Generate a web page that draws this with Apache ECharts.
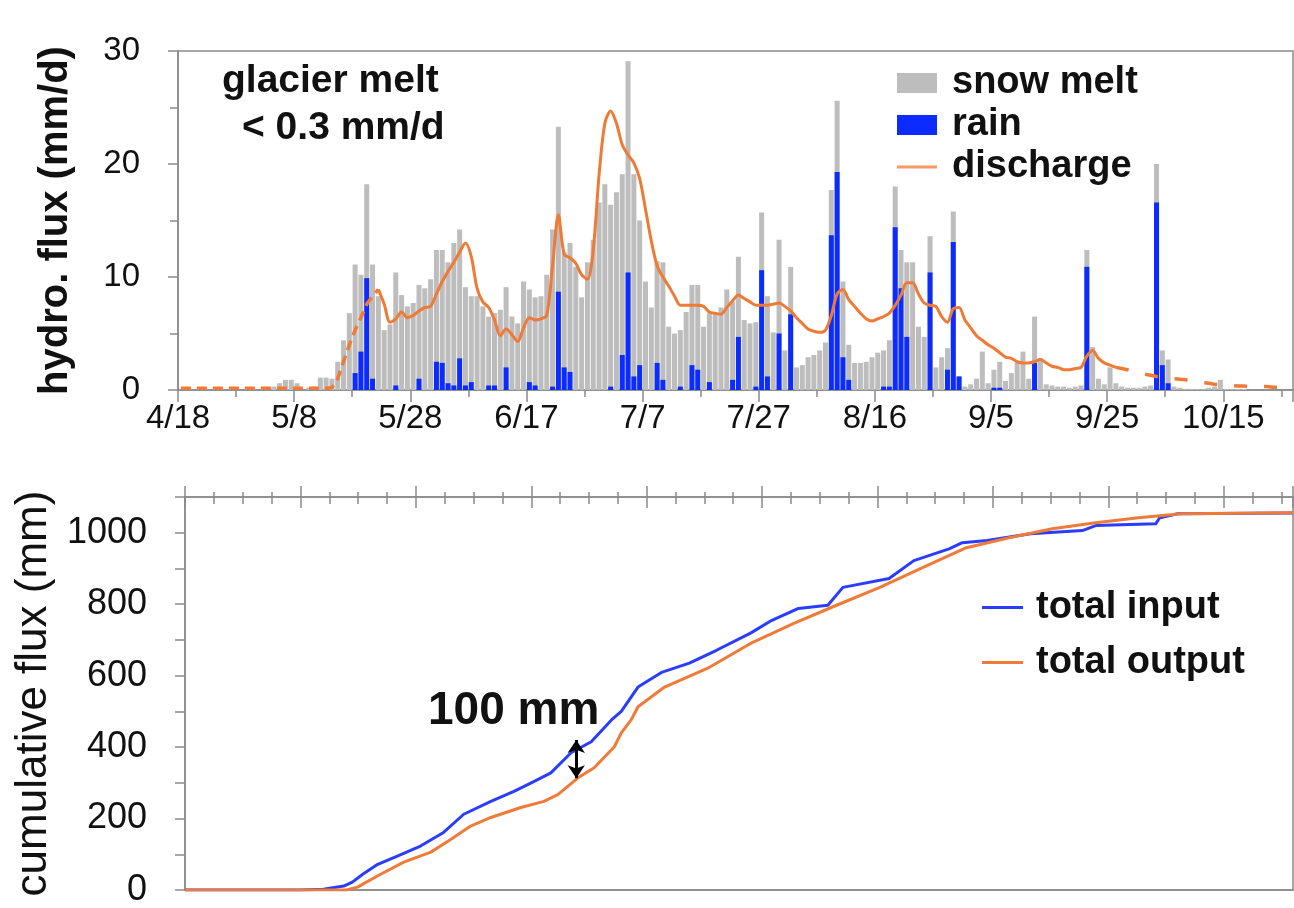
<!DOCTYPE html>
<html>
<head>
<meta charset="utf-8">
<title>Hydrological fluxes</title>
<script src="https://cdn.jsdelivr.net/npm/echarts@6/dist/echarts.min.js"></script>
<style>
  html, body { margin: 0; padding: 0; background: #fff; }
  #main { width: 1294px; height: 908px; }
</style>
</head>
<body>
<div id="main"></div>
<script>
// Daily series, one value per day starting 4/18 (day 0) through 10/27 (day 191)
const dateLabels = ['4/18', '5/8', '5/28', '6/17', '7/7', '7/27', '8/16', '9/5', '9/25', '10/15'];

// rain (mm/d)
const rain = [
  0,0,0,0,0,0,0,0,0,0,
  0,0,0,0,0,0,0,0,0,0,
  0,0,0,0,0,0,0,0,0,0,
  1.5,3.4,9.9,1.0,0,0,0,0.4,0,0,
  0,1.0,0,0,2.5,2.4,0.6,0.4,2.8,0.4,
  0.7,0,0,0.4,0.4,0,2.0,0,0,0,
  0.7,0.4,0,0,0.3,8.7,2.0,1.6,0,0,
  0,0,0,0,0.3,0,3.1,10.4,1.2,2.2,
  0,0,2.4,0.9,0,0,0.3,0,2.2,1.8,
  0,0.7,0,0,0,0.9,4.7,0,0,0.3,
  10.6,1.2,0,5.0,0,6.7,0,0,0,0,
  0,0,13.7,19.3,2.9,0.9,0,0,0,0,
  0,0.3,0.3,14.4,9.0,4.7,0,0,0,10.4,
  0,0,1.8,13.1,1.2,0,0,0,0,0,
  0.2,0.2,0,0,0,0,0,2.4,0,0,
  0,0,0,0,0,0,10.9,0,0,0,
  0,0,0,0,0,0,0,0,16.6,2.2,
  0.6,0,0,0,0,0,0,0,0,0,
  0,0,0,0,0,0,0,0,0,0,
  0,0
];

// snow melt (mm/d), drawn on top of the rain of the same day
const snowMelt = [
  0,0,0,0,0,0,0,0,0,0,
  0,0,0,0,0,0,0.3,0.6,0.9,0.9,
  0.6,0,0.2,0.3,1.1,1.1,1.0,2.5,4.4,6.8,
  9.6,6.8,8.3,10.1,8.3,5.3,5.8,10.0,8.4,7.4,
  7.7,8.3,9.0,9.8,9.9,10.0,10.7,12.6,11.4,8.7,
  7.6,8.3,7.4,6.1,6.4,7.1,7.1,6.5,5.9,9.6,
  8.2,7.8,8.3,10.2,13.9,14.6,10.2,11.4,10.9,8.2,
  11.3,13.3,16.6,18.2,16.1,17.5,16.0,18.7,17.9,12.8,
  9.6,7.3,9.0,10.4,5.6,5.0,5.0,6.9,7.1,7.5,
  5.6,6.1,6.8,7.3,8.9,6.9,7.1,6.2,5.9,5.7,
  5.1,7.1,5.1,8.3,3.5,4.2,2.0,2.2,2.9,3.1,
  3.5,4.2,4.0,6.3,6.7,3.1,2.4,2.4,2.5,2.9,
  3.3,3.2,4.1,3.6,3.4,6.6,11.3,5.6,4.7,3.2,
  2.0,2.9,1.9,2.7,0,0.3,0.5,1.0,3.4,0.6,
  1.6,2.3,0.8,1.5,2.4,3.4,1.0,4.1,2.8,0.5,
  0.4,0.3,0.3,0.2,0.3,0.4,1.5,3.8,1.0,0.5,
  2.0,0.6,0.3,0.2,0.2,0.2,0.3,0.4,3.4,1.3,
  2.1,0.3,0.2,0.1,0.1,0.1,0.1,0.2,0.3,0.9,
  0.1,0.1,0.1,0.1,0,0,0,0,0,0,
  0,0
];

// discharge (mm/d)
const discharge = [
  0.15,0.15,0.15,0.15,0.15,0.15,0.15,0.15,0.15,0.15,
  0.15,0.15,0.15,0.15,0.15,0.15,0.15,0.15,0.15,0.15,
  0.15,0.15,0.15,0.15,0.15,0.15,0.2,1.0,2.5,4.0,
  5.3,6.4,7.6,8.3,8.9,7.6,6.0,6.3,6.9,6.4,
  6.6,7.0,7.3,7.4,8.5,9.6,10.5,11.3,12.2,13.0,
  11.8,9.0,7.8,7.3,6.2,4.8,5.4,4.9,4.3,5.5,
  6.4,6.2,6.3,6.6,11.0,15.5,12.0,11.7,11.2,10.2,
  9.8,12.4,19.0,23.6,24.7,23.6,21.7,20.8,20.1,18.7,
  16.0,13.2,11.0,10.0,9.2,8.3,7.5,7.5,7.5,7.5,
  7.4,6.9,6.8,6.7,7.3,7.9,8.4,8.1,7.8,7.5,
  7.5,7.5,7.6,7.7,7.4,7.0,6.4,5.9,5.4,5.2,
  5.1,5.3,6.6,8.5,8.9,8.0,7.4,6.8,6.3,6.1,
  6.3,6.5,6.8,7.5,8.4,9.5,9.5,8.5,7.7,7.5,
  7.4,6.5,6.0,7.2,7.3,6.2,5.5,4.8,4.4,4.0,
  3.7,3.3,2.9,2.8,2.5,2.4,2.4,2.5,2.7,2.4,
  2.1,2.0,1.8,1.8,1.9,2.0,3.0,3.5,2.8,2.4,
  2.2,2.0,1.9,1.8,1.6,1.5,1.4,1.3,1.2,1.2,
  1.1,1.0,0.95,0.9,0.8,0.7,0.65,0.6,0.5,0.45,
  0.4,0.4,0.35,0.35,0.3,0.3,0.3,0.3,0.25,0.25,
  0.2,0.2
];

// measured discharge covers days 34..161; earlier and later values are estimates (dashed)
const measuredFirstDay = 34;
const measuredLastDay = 161;

// cumulative fluxes (mm) at the given day offsets
const inputDays = [0, 20, 24, 27.5, 29, 30.8, 33.4, 36.8, 40.8, 44.8, 48.3, 53.0, 57.0, 60.0, 63.4, 66.9, 70.4, 73.9, 75.6, 77.3, 78.5, 82.7, 87.4, 92.1, 98.0, 101.7, 106.3, 111.4, 114.0, 122.0, 126.3, 132.4, 134.7, 139.0, 146.5, 155.5, 157.8, 168.2, 168.9, 172.0, 192];
const totalInput = [0, 0, 2, 11, 22, 44, 72, 95, 123, 161, 212, 248, 276, 300, 328, 384, 415, 476, 500, 540, 568, 610, 635, 671, 719, 755, 788, 797, 847, 872, 922, 955, 972, 978, 997, 1006, 1020, 1025, 1042, 1053, 1055];
const outputDays = [0, 28, 29.9, 33.4, 37.9, 42.6, 46.1, 49.5, 53.0, 58.2, 62.2, 64.6, 68.1, 70.9, 74.4, 75.6, 77.3, 78.5, 83.1, 90.5, 98.0, 105.5, 112.9, 120.4, 127.9, 135.4, 142.8, 150.3, 157.8, 165.2, 172.7, 192];
const totalOutput = [0, 0, 8, 40, 78, 106, 142, 179, 203, 231, 248, 267, 314, 342, 401, 440, 476, 513, 568, 620, 690, 746, 797, 847, 903, 958, 986, 1011, 1028, 1042, 1053, 1056];

// storage gap annotation: day, upper and lower end (mm)
const gapArrow = { day: 67.8, top: 420, bottom: 313 };

const FONT = '"Liberation Sans", Arial, Helvetica, sans-serif';
const AXIS_GREY = '#8a8a8a';
const INK = '#111111';
const ORANGE = '#ef7a36';
const BLUE_LINE = '#2a3cff';

const daily = (arr) => arr.map((v, i) => [i + 0.5, v]);
const pairs = (xs, ys) => xs.map((x, i) => [x, ys[i]]);
const dischargePts = daily(discharge);
// grey column reaches rain + snow melt; the rain column is painted over its lower part
const meltColumnTop = snowMelt.map((v, i) => +(v + rain[i]).toFixed(2));

// thin horizontal bar inside a 40x20 legend box, used as a line key
const lineKey = 'path://M0,0M40,20M0,8.5L40,8.5L40,11.5L0,11.5Z';

const greyLine = { lineStyle: { color: AXIS_GREY, width: 1.5 } };
const tickStyle = { color: AXIS_GREY, width: 1.5 };

const chart = echarts.init(document.getElementById('main'), null, { renderer: 'canvas' });

chart.setOption({
  animation: false,
  backgroundColor: '#ffffff',
  textStyle: { fontFamily: FONT, color: INK },
  grid: [
    { left: 178, right: 1, top: 51, height: 339, show: true, borderColor: AXIS_GREY, borderWidth: 1.5 },
    { left: 185, right: 1, top: 497, height: 394, show: true, borderColor: AXIS_GREY, borderWidth: 1.5 }
  ],
  xAxis: [
    {
      gridIndex: 0, type: 'value', min: 0, max: 192, interval: 20,
      axisLine: greyLine,
      axisTick: { show: true, length: 12, lineStyle: tickStyle },
      minorTick: { show: true, splitNumber: 2, length: 7, lineStyle: tickStyle },
      splitLine: { show: false },
      axisLabel: {
        fontSize: 33, color: INK, margin: 12, showMaxLabel: false,
        formatter: (v) => dateLabels[Math.round(v / 20)] || ''
      }
    },
    {
      gridIndex: 1, type: 'value', min: 0, max: 192, position: 'bottom',
      axisLine: greyLine, axisTick: { show: false }, axisLabel: { show: false }, splitLine: { show: false }
    },
    {
      gridIndex: 1, type: 'value', min: 0, max: 192, interval: 20, position: 'top',
      axisLine: greyLine,
      axisTick: { show: true, length: 11, lineStyle: tickStyle },
      minorTick: { show: true, splitNumber: 4, length: 5, lineStyle: tickStyle },
      axisLabel: { show: false }, splitLine: { show: false }
    },
    {
      gridIndex: 1, type: 'value', min: 0, max: 192, interval: 20, position: 'top',
      axisLine: { show: false },
      axisTick: { show: true, inside: true, length: 11, lineStyle: tickStyle },
      minorTick: { show: true, splitNumber: 4, length: 7, lineStyle: tickStyle },
      axisLabel: { show: false }, splitLine: { show: false }
    }
  ],
  yAxis: [
    {
      gridIndex: 0, type: 'value', min: 0, max: 30, interval: 10,
      axisLine: { show: true, lineStyle: tickStyle },
      axisTick: { show: true, length: 10, lineStyle: tickStyle },
      minorTick: { show: true, splitNumber: 2, length: 8, lineStyle: tickStyle },
      splitLine: { show: false },
      axisLabel: { fontSize: 33, color: INK, margin: 38 },
      name: 'hydro. flux (mm/d)', nameLocation: 'middle', nameGap: 102,
      nameTextStyle: { fontSize: 40, fontWeight: 'bold', color: INK }
    },
    {
      gridIndex: 1, type: 'value', min: 0, max: 1100, interval: 100,
      axisLine: { show: true, lineStyle: tickStyle },
      axisTick: { show: true, length: 10, lineStyle: tickStyle },
      splitLine: { show: false },
      axisLabel: { fontSize: 36, color: INK, margin: 38, formatter: (v) => (v % 200 === 0 ? String(v) : '') },
      name: 'cumulative flux (mm)', nameLocation: 'middle', nameGap: 128,
      nameTextStyle: { fontSize: 44, color: INK }
    }
  ],
  legend: [
    {
      orient: 'vertical', left: 892, top: 57, itemWidth: 40, itemHeight: 20, itemGap: 0,
      selectedMode: false,
      textStyle: { fontSize: 38, fontWeight: 'bold', color: INK, lineHeight: 42, padding: [0, 0, 0, 10] },
      data: [
        { name: 'snow melt', icon: 'rect' },
        { name: 'rain', icon: 'rect' },
        { name: 'discharge', icon: lineKey, itemStyle: { color: '#f39a66' } }
      ]
    },
    {
      orient: 'vertical', left: 977, top: 575, itemWidth: 41, itemHeight: 3, itemGap: 0,
      selectedMode: false, icon: 'rect',
      textStyle: { fontSize: 38, fontWeight: 'bold', color: INK, lineHeight: 55, padding: [0, 0, 0, 8] },
      data: ['total input', 'total output']
    }
  ],
  graphic: [
    { type: 'text', left: 222, top: 62, style: { text: 'glacier melt', font: 'bold 39px ' + FONT, fill: INK } },
    { type: 'text', left: 242, top: 109, style: { text: '< 0.3 mm/d', font: 'bold 39px ' + FONT, fill: INK } },
    { type: 'text', left: 428, top: 688, style: { text: '100 mm', font: 'bold 46px ' + FONT, fill: INK } }
  ],
  series: [
    {
      name: 'snow melt', type: 'bar', xAxisIndex: 0, yAxisIndex: 0,
      barWidth: 5, barGap: '-100%', itemStyle: { color: '#bdbdbd' }, z: 2,
      data: daily(meltColumnTop)
    },
    {
      name: 'rain', type: 'bar', xAxisIndex: 0, yAxisIndex: 0,
      barWidth: 5, barGap: '-100%', itemStyle: { color: '#0b2bff' }, z: 3,
      data: daily(rain)
    },
    {
      name: 'discharge', type: 'line', xAxisIndex: 0, yAxisIndex: 0, symbol: 'none', smooth: 0.3,
      lineStyle: { color: ORANGE, width: 3 }, itemStyle: { color: ORANGE }, z: 5,
      data: dischargePts.filter((p, i) => i >= measuredFirstDay && i <= measuredLastDay)
    },
    {
      name: 'discharge', type: 'line', xAxisIndex: 0, yAxisIndex: 0, symbol: 'none',
      lineStyle: { color: ORANGE, width: 3.5, type: [10, 6] }, itemStyle: { color: ORANGE }, z: 5,
      data: dischargePts.filter((p, i) => i <= measuredFirstDay)
    },
    {
      name: 'discharge', type: 'line', xAxisIndex: 0, yAxisIndex: 0, symbol: 'none',
      lineStyle: { color: ORANGE, width: 3.5, type: [13, 17] }, itemStyle: { color: ORANGE }, z: 5,
      data: dischargePts.filter((p, i) => i >= measuredLastDay)
    },
    {
      name: 'total input', type: 'line', xAxisIndex: 1, yAxisIndex: 1, symbol: 'none',
      lineStyle: { color: BLUE_LINE, width: 3, join: 'round' }, itemStyle: { color: BLUE_LINE },
      data: pairs(inputDays, totalInput)
    },
    {
      name: 'total output', type: 'line', xAxisIndex: 1, yAxisIndex: 1, symbol: 'none',
      lineStyle: { color: '#f07a38', width: 3, join: 'round' }, itemStyle: { color: '#f07a38' },
      data: pairs(outputDays, totalOutput),
      markLine: {
        silent: true, animation: false,
        symbol: ['arrow', 'arrow'], symbolSize: [13, 13],
        lineStyle: { color: '#000', width: 3, type: 'solid' },
        label: { show: false },
        data: [[
          { coord: [gapArrow.day, gapArrow.top] },
          { coord: [gapArrow.day, gapArrow.bottom] }
        ]]
      }
    }
  ]
});
</script>
</body>
</html>
